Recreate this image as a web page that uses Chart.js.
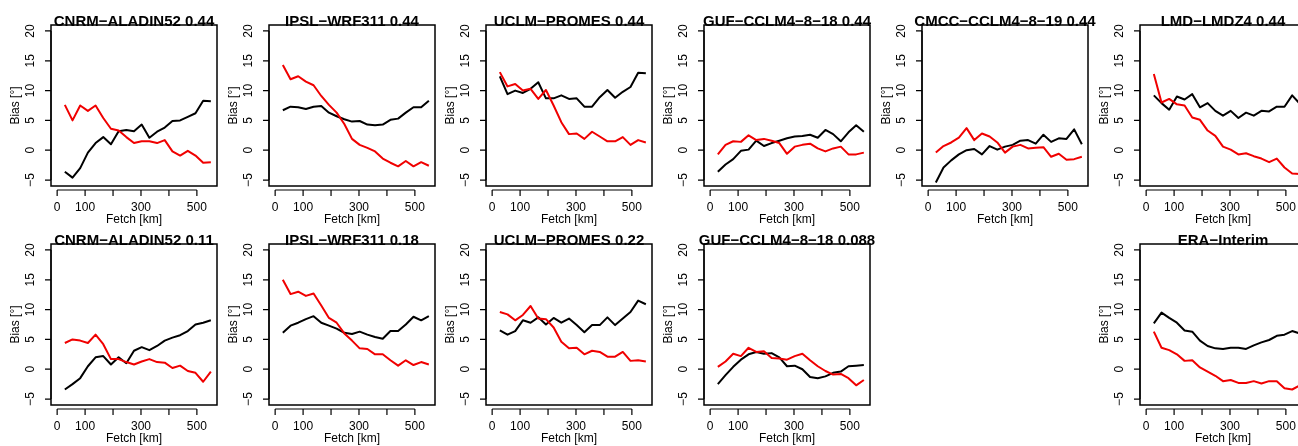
<!DOCTYPE html>
<html>
<head>
<meta charset="utf-8">
<script src="https://cdn.jsdelivr.net/npm/chart.js@4.4.0/dist/chart.umd.min.js"></script>
<style>
html, body { margin: 0; padding: 0; background: #fff; overflow: hidden; }
#paneles { position: relative; width: 1298px; height: 446px; overflow: hidden; background: #fff; }
#paneles canvas { position: absolute; }
</style>
</head>
<body>
<div id="paneles"></div>
<script>
// ========= Datos =========
const fetchKm = [27.5, 55, 82.5, 110, 137.5, 165, 192.5, 220, 247.5, 275, 302.5, 330, 357.5, 385, 412.5, 440, 467.5, 495, 522.5, 550];
const xTicks = [0, 100, 200, 300, 400, 500];
const xTickLabels = ['0', '100', '', '300', '', '500'];
const yTicks = [-5, 0, 5, 10, 15, 20];
const yTickLabels = ['\u22125', '0', '5', '10', '15', '20'];

const cnrm044Black = [-3.6, -4.6, -3.0, -0.4, 1.2, 2.2, 1.0, 3.2, 3.4, 3.2, 4.3, 2.1, 3.1, 3.8, 4.9, 5.0, 5.6, 6.2, 8.3, 8.2];
const cnrm044Red = [7.6, 5.0, 7.5, 6.6, 7.5, 5.4, 3.6, 3.3, 2.2, 1.2, 1.5, 1.5, 1.2, 1.7, -0.2, -0.9, -0.1, -0.9, -2.1, -2.0];
const ipsl044Black = [6.7, 7.3, 7.2, 6.9, 7.3, 7.4, 6.3, 5.7, 5.2, 4.8, 4.9, 4.3, 4.2, 4.3, 5.1, 5.3, 6.3, 7.2, 7.2, 8.3];
const ipsl044Red = [14.3, 11.9, 12.4, 11.5, 10.9, 9.1, 7.6, 6.3, 4.4, 1.9, 0.9, 0.4, -0.2, -1.4, -2.1, -2.7, -1.8, -2.7, -2.0, -2.6];
const uclm044Black = [12.4, 9.4, 10.0, 9.6, 10.3, 11.4, 8.7, 8.7, 9.2, 8.6, 8.7, 7.3, 7.3, 8.9, 10.1, 8.8, 9.8, 10.6, 13.0, 12.9];
const uclm044Red = [13.1, 10.7, 11.1, 10.0, 10.3, 8.6, 10.1, 7.5, 4.7, 2.7, 2.8, 1.9, 3.1, 2.3, 1.5, 1.5, 2.2, 0.9, 1.7, 1.3];
const guf044Black = [-3.6, -2.4, -1.5, -0.1, 0.1, 1.6, 0.7, 1.2, 1.6, 2.0, 2.3, 2.4, 2.6, 2.1, 3.4, 2.7, 1.5, 3.0, 4.2, 3.1];
const guf044Red = [-0.7, 0.9, 1.5, 1.4, 2.5, 1.7, 1.9, 1.6, 1.2, -0.6, 0.6, 0.9, 1.1, 0.3, -0.2, 0.3, 0.6, -0.7, -0.7, -0.4];
const cmcc044Black = [-5.4, -2.9, -1.7, -0.7, 0.0, 0.2, -0.7, 0.7, 0.1, 0.6, 0.9, 1.6, 1.7, 1.1, 2.6, 1.4, 2.0, 1.9, 3.5, 1.0];
const cmcc044Red = [-0.4, 0.7, 1.3, 2.1, 3.7, 1.7, 2.8, 2.3, 1.3, -0.4, 0.6, 0.9, 0.3, 0.4, 0.5, -1.1, -0.6, -1.6, -1.5, -1.1];
const lmd044Black = [9.2, 7.9, 6.8, 9.0, 8.5, 9.4, 7.2, 7.9, 6.6, 5.8, 6.6, 5.4, 6.3, 5.8, 6.6, 6.5, 7.3, 7.3, 9.2, 7.8];
const lmd044Red = [12.8, 8.0, 8.6, 7.7, 7.5, 5.5, 5.1, 3.3, 2.4, 0.6, 0.1, -0.7, -0.5, -1.0, -1.4, -2.0, -1.4, -2.9, -3.9, -4.0];
const cnrm011Black = [-3.4, -2.5, -1.5, 0.5, 2.0, 2.2, 0.8, 2.0, 1.0, 3.1, 3.7, 3.2, 3.9, 4.8, 5.3, 5.7, 6.4, 7.5, 7.8, 8.2];
const cnrm011Red = [4.4, 5.0, 4.8, 4.4, 5.8, 4.2, 1.7, 1.7, 1.2, 0.8, 1.3, 1.7, 1.2, 1.1, 0.2, 0.6, -0.3, -0.6, -2.1, -0.4];
const ipsl018Black = [6.1, 7.3, 7.8, 8.4, 8.9, 7.8, 7.3, 6.8, 6.1, 5.9, 6.3, 5.8, 5.4, 5.1, 6.4, 6.4, 7.5, 8.8, 8.2, 8.9];
const ipsl018Red = [15.0, 12.6, 13.0, 12.3, 12.7, 10.7, 8.6, 7.8, 6.0, 4.8, 3.5, 3.4, 2.5, 2.5, 1.5, 0.6, 1.5, 0.7, 1.2, 0.8];
const uclm022Black = [6.5, 5.8, 6.4, 8.2, 7.8, 8.7, 7.5, 8.6, 7.8, 8.5, 7.4, 6.2, 7.4, 7.4, 8.7, 7.4, 8.5, 9.6, 11.5, 10.9];
const uclm022Red = [9.6, 9.2, 8.2, 9.1, 10.6, 8.5, 8.4, 7.0, 4.6, 3.5, 3.6, 2.5, 3.1, 2.9, 2.1, 2.1, 2.9, 1.4, 1.5, 1.3];
const guf0088Black = [-2.5, -1.0, 0.4, 1.6, 2.5, 2.9, 2.6, 2.7, 2.0, 0.5, 0.6, 0.0, -1.3, -1.5, -1.2, -0.6, -0.4, 0.5, 0.6, 0.7];
const guf0088Red = [0.4, 1.3, 2.6, 2.2, 3.6, 2.9, 3.0, 1.9, 1.8, 1.6, 2.2, 2.6, 1.5, 0.5, -0.3, -0.9, -0.8, -1.5, -2.7, -1.8];
const eraBlack = [7.7, 9.5, 8.6, 7.8, 6.5, 6.3, 4.8, 3.9, 3.5, 3.4, 3.6, 3.6, 3.4, 4.0, 4.5, 4.9, 5.6, 5.8, 6.4, 6.0];
const eraRed = [6.3, 3.6, 3.2, 2.5, 1.4, 1.5, 0.3, -0.4, -1.1, -2.0, -1.8, -2.3, -2.3, -2.0, -2.4, -2.0, -2.0, -3.2, -3.4, -2.7];

// fila, columna, título y series de cada panel
const paneles = [
    { fila: 0, col: 0, titulo: 'CNRM\u2212ALADIN52 0.44', negro: cnrm044Black, rojo: cnrm044Red },
    { fila: 0, col: 1, titulo: 'IPSL\u2212WRF311 0.44', negro: ipsl044Black, rojo: ipsl044Red },
    { fila: 0, col: 2, titulo: 'UCLM\u2212PROMES 0.44', negro: uclm044Black, rojo: uclm044Red },
    { fila: 0, col: 3, titulo: 'GUF\u2212CCLM4\u22128\u221218 0.44', negro: guf044Black, rojo: guf044Red },
    { fila: 0, col: 4, titulo: 'CMCC\u2212CCLM4\u22128\u221219 0.44', negro: cmcc044Black, rojo: cmcc044Red },
    { fila: 0, col: 5, titulo: 'LMD\u2212LMDZ4 0.44', negro: lmd044Black, rojo: lmd044Red },
    { fila: 1, col: 0, titulo: 'CNRM\u2212ALADIN52 0.11', negro: cnrm011Black, rojo: cnrm011Red },
    { fila: 1, col: 1, titulo: 'IPSL\u2212WRF311 0.18', negro: ipsl018Black, rojo: ipsl018Red },
    { fila: 1, col: 2, titulo: 'UCLM\u2212PROMES 0.22', negro: uclm022Black, rojo: uclm022Red },
    { fila: 1, col: 3, titulo: 'GUF\u2212CCLM4\u22128\u221218 0.088', negro: guf0088Black, rojo: guf0088Red },
    { fila: 1, col: 5, titulo: 'ERA\u2212Interim', negro: eraBlack, rojo: eraRed }
];

const FUENTE = '"Liberation Sans", Arial, Helvetica, sans-serif';

// ========= Ejes estilo R =========
const ejesR = {
    id: 'ejesR',
    afterDraw(chart, args, opts) {
        const ctx = chart.ctx;
        const a = chart.chartArea;
        const xs = chart.scales.x;
        const ys = chart.scales.y;
        ctx.save();
        ctx.strokeStyle = '#000';
        ctx.fillStyle = '#000';

        // caja
        ctx.lineWidth = 1.5;
        ctx.strokeRect(a.left, a.top, a.right - a.left, a.bottom - a.top);

        // eje y
        ctx.lineWidth = 1.2;
        ctx.beginPath();
        ctx.moveTo(a.left, ys.getPixelForValue(yTicks[0]));
        ctx.lineTo(a.left, ys.getPixelForValue(yTicks[yTicks.length - 1]));
        yTicks.forEach(v => {
            const p = ys.getPixelForValue(v);
            ctx.moveTo(a.left - 6, p);
            ctx.lineTo(a.left, p);
        });
        ctx.stroke();

        ctx.font = '12px ' + FUENTE;
        ctx.textAlign = 'center';
        ctx.textBaseline = 'middle';
        yTicks.forEach((v, i) => {
            ctx.save();
            ctx.translate(a.left - 20, ys.getPixelForValue(v));
            ctx.rotate(-Math.PI / 2);
            ctx.fillText(yTickLabels[i], 0, 0);
            ctx.restore();
        });
        ctx.save();
        ctx.translate(a.left - 35, (a.top + a.bottom) / 2);
        ctx.rotate(-Math.PI / 2);
        ctx.fillText('Bias [\u00b0]', 0, 0);
        ctx.restore();

        // eje x
        const yEje = a.bottom + 4;
        ctx.beginPath();
        ctx.moveTo(xs.getPixelForValue(xTicks[0]), yEje);
        ctx.lineTo(xs.getPixelForValue(xTicks[xTicks.length - 1]), yEje);
        xTicks.forEach(v => {
            const p = xs.getPixelForValue(v);
            ctx.moveTo(p, yEje);
            ctx.lineTo(p, yEje + 6);
        });
        ctx.stroke();
        xTicks.forEach((v, i) => {
            if (xTickLabels[i]) ctx.fillText(xTickLabels[i], xs.getPixelForValue(v), a.bottom + 22);
        });
        ctx.fillText('Fetch [km]', (a.left + a.right) / 2, a.bottom + 34);

        // título
        ctx.font = 'bold 15px ' + FUENTE;
        ctx.textBaseline = 'alphabetic';
        ctx.fillText(opts.titulo, (a.left + a.right) / 2, a.top + 1);
        ctx.restore();
    }
};

// ========= Paneles =========
function crearPanel(p) {
    const izq = Math.round(50.6 + 217.9 * p.col);
    const arriba = 25 + 219 * p.fila;
    const canvas = document.createElement('canvas');
    canvas.width = 260;
    canvas.height = 228;
    canvas.style.width = '260px';
    canvas.style.height = '228px';
    canvas.style.left = (izq - 50) + 'px';
    canvas.style.top = (arriba - 25) + 'px';
    document.getElementById('paneles').appendChild(canvas);

    const serie = (vals, color) => ({
        data: fetchKm.map((x, i) => ({ x: x, y: vals[i] })),
        borderColor: color,
        borderWidth: 2,
        pointRadius: 0,
        tension: 0,
        borderJoinStyle: 'round',
        fill: false
    });

    new Chart(canvas.getContext('2d'), {
        type: 'line',
        data: { datasets: [serie(p.rojo, '#f00000'), serie(p.negro, '#000000')] },
        plugins: [ejesR],
        options: {
            responsive: false,
            animation: false,
            devicePixelRatio: 1,
            layout: { padding: { left: 50, top: 25, right: 44, bottom: 42 } },
            scales: {
                x: { type: 'linear', min: -22, max: 572, display: false },
                y: { type: 'linear', min: -6, max: 21, display: false }
            },
            plugins: {
                legend: { display: false },
                tooltip: { enabled: false },
                ejesR: { titulo: p.titulo }
            }
        }
    });
}

paneles.forEach(crearPanel);
</script>
</body>
</html>
